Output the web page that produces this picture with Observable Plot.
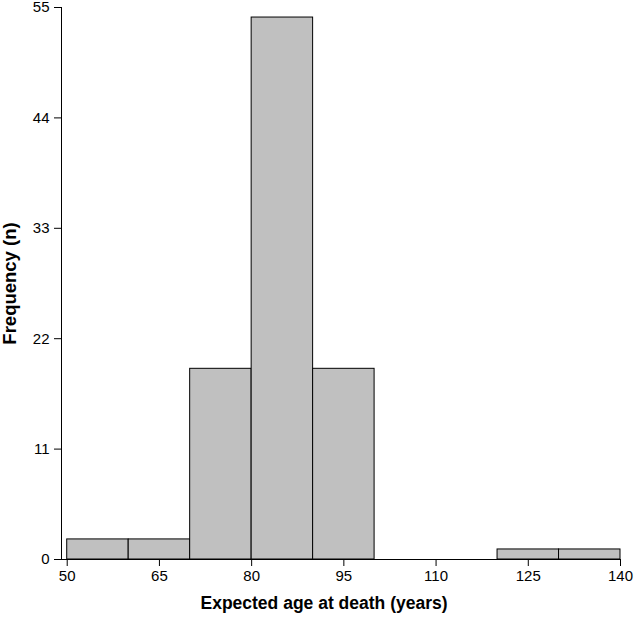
<!DOCTYPE html>
<html>
<head>
<meta charset="utf-8">
<script src="https://cdn.jsdelivr.net/npm/d3@7"></script>
<script src="https://cdn.jsdelivr.net/npm/@observablehq/plot@0.6"></script>
<style>
  body { margin: 0; background: #fff; }
  svg { font-family: "Liberation Sans", Arial, sans-serif; }
  g[aria-label="y-axis label"] text { font-weight: bold; font-size: 18.5px; }
</style>
</head>
<body>
<div id="chart"></div>
<script>
const binStarts = [50, 60, 70, 80, 90, 100, 110, 120, 130];
const binWidth = 10;
const counts = [2, 2, 19, 54, 19, 0, 0, 1, 1];
const xTicks = [50, 65, 80, 95, 110, 125, 140];
const yTicks = [0, 11, 22, 33, 44, 55];

const bins = binStarts.map((s, i) => ({x1: s, x2: s + binWidth, n: counts[i]})).filter(d => d.n > 0);

const chart = Plot.plot({
  width: 634,
  height: 617,
  marginLeft: 61,
  marginRight: 14,
  marginTop: 7,
  marginBottom: 58,
  style: {fontFamily: '"Liberation Sans", Arial, sans-serif', fontSize: "15px", color: "#000", background: "#fff", overflow: "visible"},
  x: {domain: [49.07, 140], ticks: xTicks},
  y: {domain: [0, 55], ticks: yTicks},
  marks: [
    Plot.rectY(bins, {x1: "x1", x2: "x2", y: "n", fill: "#c0c0c0", stroke: "#000", strokeWidth: 1}),
    Plot.frame({anchor: "left", stroke: "#000"}),
    Plot.frame({anchor: "bottom", stroke: "#000"}),
    Plot.axisX({ticks: xTicks, tickSize: 7, tickPadding: 4, fontSize: 15, label: null}),
    Plot.axisY({ticks: yTicks, tickSize: 7, tickPadding: 5, fontSize: 15, label: "Frequency (n)", labelAnchor: "center", labelArrow: "none", labelOffset: 59}),
    Plot.text(["Expected age at death (years)"], {frameAnchor: "bottom", dx: -17, dy: 49, fontWeight: "bold", fontSize: 17.5, fill: "#000"})
  ]
});
document.getElementById("chart").appendChild(chart);
</script>
</body>
</html>
